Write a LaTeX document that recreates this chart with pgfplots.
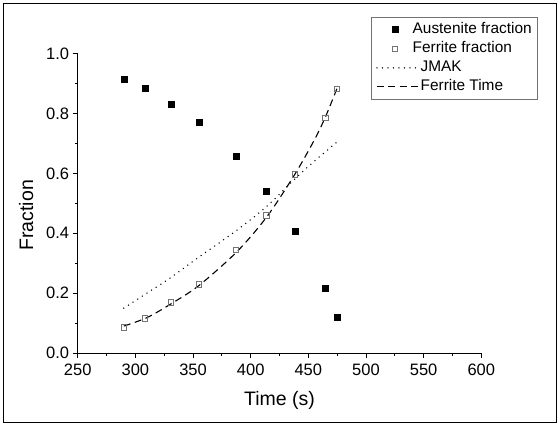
\documentclass[border=0pt]{standalone}
\usepackage{fontspec}
\setmainfont{Liberation Sans}
\usepackage{pgfplots}
\pgfplotsset{compat=1.18}
\pgfplotsset{
  marklegend/.style={legend image code/.code={\path (0pt,0pt) (34pt,0pt); \draw[##1] plot coordinates {(19pt,0pt)};}},
  linelegend/.style={legend image code/.code={\path (0pt,0pt) (34pt,0pt); \draw[##1, overlay] (1pt,0pt) -- (43pt,0pt);}},
}
\begin{document}
\begin{tikzpicture}[x=1pt,y=1pt]
\path (0,0) rectangle (559,424);
\draw[line width=1.4pt] (3.5,1.3) rectangle (556.5,420.7);
\begin{axis}[
  at={(77.7pt,71pt)}, anchor=south west,
  scale only axis, width=403.6pt, height=299.4pt,
  xmin=250, xmax=600, ymin=0, ymax=1,
  axis lines=left, axis line style={-, line width=1pt},
  xtick={250,300,...,600}, ytick={0,0.2,...,1.0},
  minor x tick num=1, minor y tick num=1,
  tick align=outside, tick style={line width=0.9pt, black},
  major tick length=5pt, minor tick length=3pt,
  /pgf/number format/assume math mode=true,
  /pgf/number format/fixed, /pgf/number format/fixed zerofill,
  /pgf/number format/precision=1,
  xticklabel style={/pgf/number format/precision=0, /pgf/number format/fixed zerofill=false, yshift=-2pt},
  ticklabel style={font=\fontsize{16.5}{19}\selectfont},
  xlabel={Time (s)}, ylabel={Fraction},
  label style={font=\fontsize{19.5}{22}\selectfont},
  xlabel style={at={(axis description cs:0.5,-0.16)}, anchor=center},
  ylabel style={at={(axis description cs:-0.128,0.46)}, anchor=center, rotate=0},
  legend style={at={(axis description cs:1.1405,1.1223)}, anchor=north east,
    draw=black!55, line width=0.7pt, font=\fontsize{15.4}{18}\selectfont,
    row sep=0pt, inner xsep=4pt, inner ysep=3pt,
    nodes={text height=11pt, text depth=3pt, inner ysep=2.5pt, inner xsep=2pt}},
  legend cell align=left,
  clip=false,
]
\addplot[only marks, mark=square*, mark size=3pt, black, marklegend]
  coordinates {(290.5,0.915) (308.5,0.885) (330.7,0.832) (355.1,0.772) (387.3,0.658) (413.6,0.542) (438.3,0.406) (464.6,0.216) (474.8,0.118)};
\addlegendentry{Austenite fraction}
\addplot[only marks, mark=square, mark size=2.8pt, black!55, mark options={line width=0.7pt}, marklegend]
  coordinates {(289.9,0.085) (308.4,0.115) (330.7,0.170) (355.1,0.229) (387.3,0.345) (413.6,0.460) (438.3,0.597) (464.6,0.786) (474.8,0.882)};
\addlegendentry{Ferrite fraction}
\addplot[black, line width=1.5pt, line cap=round, dash pattern=on 0pt off 5.5pt, smooth, no marks, linelegend]
  coordinates {(290,0.150) (310,0.200) (330,0.250) (355,0.320) (388,0.410) (414,0.490) (438,0.580) (455,0.640) (475,0.705)};
\addlegendentry{\hspace{8pt}JMAK}
\addplot[black, line width=1.1pt, dash pattern=on 7pt off 4.5pt, smooth, no marks, linelegend]
  coordinates {(290,0.090) (310,0.118) (330,0.162) (355,0.225) (388,0.338) (414,0.455) (438,0.595) (455,0.710) (465,0.790) (475,0.885)};
\addlegendentry{\hspace{8pt}Ferrite Time}
\end{axis}
\end{tikzpicture}
\end{document}
